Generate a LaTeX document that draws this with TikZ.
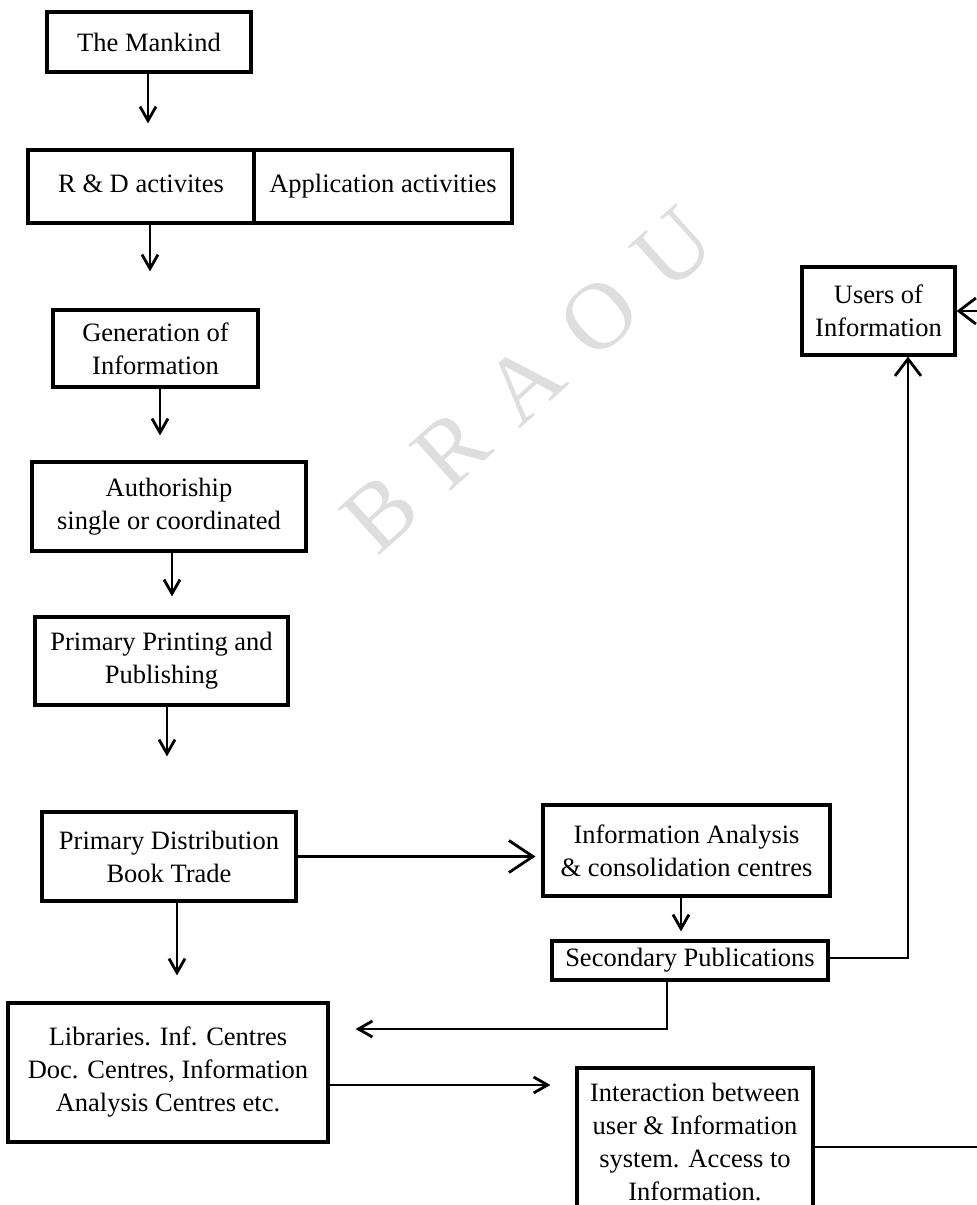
\documentclass[tikz,border=0pt]{standalone}
\usepackage{fontspec}
\setmainfont{Liberation Serif}
\usetikzlibrary{arrows.meta}
\tikzset{
  box/.style={draw, line width=3.2pt, inner sep=0pt, align=center,
    font=\fontsize{26.5}{33}\selectfont},
  conn/.style={line width=2.8pt},
  arr/.style={conn, -{Straight Barb[length=14pt,width=16pt]}},
  arrbig/.style={conn, -{Straight Barb[length=24pt,width=32pt]}},
  arrmid/.style={conn, -{Straight Barb[length=17pt,width=26pt]}},
  wm/.style={text=black!13, font=\fontsize{95}{95}\selectfont, rotate=42},
}
\begin{document}
\begin{tikzpicture}[x=1pt, y=-1pt]
\useasboundingbox (0,0) rectangle (977,1205);
\clip (0,0) rectangle (977,1205);
\fill[white] (0,0) rectangle (977,1205);

% faint watermark
\node[wm] (wmark) at (528,380) {B\hspace{32pt}R\hspace{32pt}A\hspace{32pt}O\hspace{32pt}U};

% boxes
\node[box, minimum width=204pt, minimum height=60pt] (mank) at (149,42) {The Mankind};
\node[box, minimum width=226pt, minimum height=73pt, text height=18pt, text depth=6pt] (rd) at (141,186.5) {R \& D activites};
\node[box, minimum width=258pt, minimum height=73pt, text height=18pt, text depth=6pt] (app) at (383,186.5) {Application activities};
\node[box, minimum width=205pt, minimum height=77pt] (gen) at (155.5,348.5) {Generation of\\Information};
\node[box, minimum width=274pt, minimum height=89pt] (auth) at (169,506.5) {Authoriship\\single or coordinated};
\node[box, minimum width=253pt, minimum height=88pt] (print) at (161.5,661) {Primary Printing and\\Publishing};
\node[box, minimum width=254pt, minimum height=89pt] (pd) at (169,856.5) {Primary Distribution\\Book Trade};
\node[box, minimum width=320pt, minimum height=139pt] (lib) at (168,1072.5) {Libraries. Inf. Centres\\Doc. Centres, Information\\Analysis Centres etc.};
\node[box, minimum width=287pt, minimum height=91pt] (ia) at (686.5,850.5) {Information Analysis\\\& consolidation centres};
\node[box, minimum width=276pt, minimum height=39pt] (sec) at (690,960.5) {Secondary Publications};
\node[box, minimum width=153pt, minimum height=88pt] (users) at (878.5,311) {Users of\\Information};
\node[box, minimum width=236pt, minimum height=147pt] (inter) at (695,1141.5) {Interaction between\\user \& Information\\system. Access to\\Information.};

% connector anchors
\coordinate (a1) at ([xshift=-1pt]mank.south);
\coordinate (a2) at ([xshift=9pt]rd.south);
\coordinate (a3) at ([xshift=4.5pt]gen.south);
\coordinate (a4) at ([xshift=3pt]auth.south);
\coordinate (a5) at ([xshift=5.5pt]print.south);
\coordinate (a6) at ([xshift=8pt]pd.south);
\coordinate (a7) at ([xshift=-5.5pt]ia.south);
\coordinate (s1) at ([yshift=2.5pt]sec.east);
\coordinate (s2) at ([xshift=29.5pt]users.south);
\coordinate (s3) at ([xshift=-23pt]sec.south);
\coordinate (l1) at ([yshift=43.5pt]lib.east);
\coordinate (l2) at ([yshift=-12.5pt]lib.east);
\coordinate (i1) at ([yshift=-5.5pt]inter.east);
\coordinate (edge) at (1000,0);

% connectors
\draw[arr, shorten >=25pt] (a1) -- (a1 |- rd.north);
\draw[arr, shorten >=37pt] (a2) -- (a2 |- gen.north);
\draw[arr, shorten >=25pt] (a3) -- (a3 |- auth.north);
\draw[arr, shorten >=19pt] (a4) -- (a4 |- print.north);
\draw[arr, shorten >=54pt] (a5) -- (a5 |- pd.north);
\draw[arr, shorten >=26pt] (a6) -- (a6 |- lib.north);
\draw[arrbig, shorten >=6pt] (pd.east) -- (pd.east -| ia.west);
\draw[arr, shorten >=8pt] (a7) -- (a7 |- sec.north);
\draw[arrmid] (s1) -- (s1 -| s2) -- (s2);
\draw[arr, shorten >=26pt] (s3) -- (s3 |- l1) -- (l1);
\draw[arr, shorten >=25pt] (l2) -- (l2 -| inter.west);
\draw[arrmid] (i1) -- (i1 -| edge) -- (edge |- users.east) -- (users.east);
\end{tikzpicture}
\end{document}
